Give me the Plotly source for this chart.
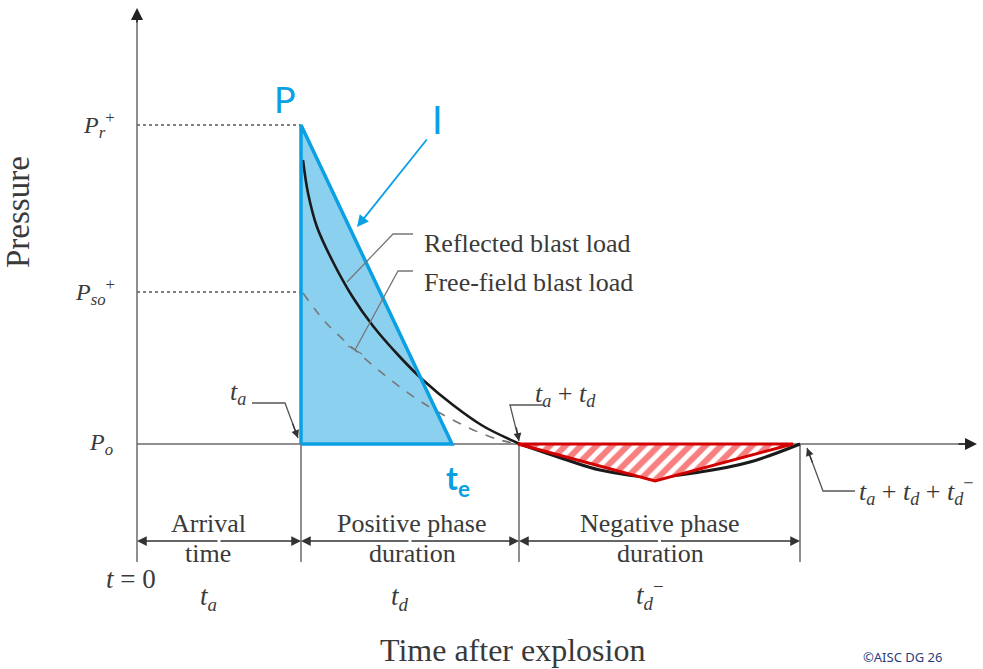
import plotly.graph_objects as go

# ---- data (time / pressure in arbitrary schematic units) ----
t_a = 164          # arrival time
t_e = 315          # equivalent triangular duration end
t_pos_end = 382    # t_a + t_d
t_neg_end = 663    # t_a + t_d + t_d^-
P_r = 319          # peak reflected pressure
P_so = 152         # peak free-field pressure
t_bottom = -118    # bottom of dimension guide lines
t_dim = -97        # dimension arrows level

reflected_t = [166, 171, 180, 195, 215, 236, 263, 286, 316, 346, 383]
reflected_p = [284, 251, 217, 184, 148, 118, 87, 64, 39, 18, 0]
freefield_t = [166, 180, 193, 218, 250, 286, 330, 363, 383]
freefield_p = [151, 132, 117, 94, 67, 41, 17, 4, 0]
negative_t = [383, 430, 463, 516, 563, 613, 663]
negative_p = [0, -16, -26, -33, -28, -18, 0]
neg_tri_t = [381, 656, 518, 381]
neg_tri_p = [0, 0, -37, 0]
pos_tri_t = [t_a, t_a, t_e, t_a]
pos_tri_p = [0, P_r, 0, 0]

GRAY = "#6a6a6a"
TXT = "#3a3a3a"
BLUE = "#0AA0E2"
SERIF = "Liberation Serif"

fig = go.Figure()

def line(xs, ys, color=GRAY, width=1.5, dash="solid", shape="linear"):
    fig.add_trace(go.Scatter(x=xs, y=ys, mode="lines", hoverinfo="skip",
                             line=dict(color=color, width=width, dash=dash, shape=shape),
                             showlegend=False))

# dotted reference levels
line([0, t_a], [P_r, P_r], color="#555", width=1.5, dash="dot")
line([0, t_a], [P_so, P_so], color="#555", width=1.5, dash="dot")

# axes and guide lines
line([0, 0], [t_bottom, 430])
line([0, 836], [0, 0])
line([t_a, t_a], [t_bottom, 0])
line([t_pos_end, t_pos_end], [t_bottom, 0])
line([t_neg_end, t_neg_end], [t_bottom, 0])

# blue triangle fill
fig.add_trace(go.Scatter(x=pos_tri_t, y=pos_tri_p, mode="lines", fill="toself",
                         fillcolor="#8CD0F0", line=dict(width=0), hoverinfo="skip",
                         showlegend=False))

# curves
line(freefield_t, freefield_p, color="#777", width=1.6, dash="dash", shape="spline")
line(reflected_t, reflected_p, color="#1a1a1a", width=2.6, shape="spline")
line(negative_t, negative_p, color="#1a1a1a", width=3, shape="spline")

# red hatched negative triangle
fig.add_trace(go.Scatter(x=neg_tri_t, y=neg_tri_p, mode="lines", fill="toself",
                         fillcolor="white",
                         fillpattern=dict(shape="/", fgcolor="#F00000", bgcolor="white",
                                          size=11, solidity=0.55),
                         line=dict(color="#D00000", width=3), hoverinfo="skip",
                         showlegend=False))

# blue triangle outline
line(pos_tri_t, pos_tri_p, color=BLUE, width=3.5)

# leader lines
line([115, 148, 161], [41, 41, 6], color="#555", width=1.3)
line([406, 373, 382], [39, 39, 3], color="#555", width=1.3)
line([718, 686, 670], [-47, -47, -4], color="#555", width=1.3)
line([276, 256, 210], [210, 210, 162], color="#777", width=1.3)
line([276, 261, 218], [173, 173, 94], color="#777", width=1.3)
line([211, 225], [98, 90], color="#777", width=1.3)

ann = []

def arrow(x, y, ax, ay, color="#333", width=1.5, head=2, size=1.3):
    ann.append(dict(x=x, y=y, ax=ax, ay=ay, xref="x", yref="y", axref="x", ayref="y",
                    text="", showarrow=True, arrowhead=head, arrowsize=size,
                    arrowwidth=width, arrowcolor=color))

# axis arrow heads
arrow(0, 436, 0, 420, color="#222", size=1.6)
arrow(840, 0, 820, 0, color="#222", size=1.6)

# leader arrow heads
arrow(161, 6, 155, 22, color="#333", width=1.3, size=1.2)
arrow(382, 3, 379, 18, color="#333", width=1.3, size=1.2)
arrow(670, -4, 676, -20, color="#333", width=1.3, size=1.2)

# blue arrow to impulse
arrow(220, 217, 291, 306, color=BLUE, width=1.8, size=1.3)

# dimension arrows
for a, b in [(0, t_a), (t_a, t_pos_end), (t_pos_end, t_neg_end)]:
    m = (a + b) / 2
    arrow(a, t_dim, m, t_dim, color="#333", width=1.5, size=1.3)
    arrow(b, t_dim, m, t_dim, color="#333", width=1.5, size=1.3)

def text(x, y, s, size=27, color=TXT, family=SERIF, xanchor="center", textangle=0):
    ann.append(dict(x=x, y=y, xref="x", yref="y", text=s, showarrow=False,
                    font=dict(size=size, color=color, family=family),
                    xanchor=xanchor, yanchor="middle", textangle=textangle))

text(-119, 232, "Pressure", size=33, textangle=-90)
text(375, -206, "Time after explosion", size=32)

text(-20, 319, "<i>P</i><sub><i>r</i></sub><sup>+</sup>", size=24, xanchor="right")
text(-20, 152, "<i>P</i><sub><i>so</i></sub><sup>+</sup>", size=24, xanchor="right")
text(-22, 0, "<i>P</i><sub><i>o</i></sub>", size=24, xanchor="right")

text(285, 201, "Reflected blast load", size=26, xanchor="left")
text(285, 162, "Free-field blast load", size=26, xanchor="left")

text(101, 51, "<i>t</i><sub><i>a</i></sub>", size=26)
text(396, 49, "<i>t</i><sub><i>a</i></sub> + <i>t</i><sub><i>d</i></sub>", size=26, xanchor="left")
text(720, -47, "<i>t</i><sub><i>a</i></sub> + <i>t</i><sub><i>d</i></sub> + <i>t</i><sub><i>d</i></sub><sup>−</sup>",
     size=26, xanchor="left")

text(71, -79, "Arrival", size=26)
text(71, -109, "time", size=26)
text(275, -79, "Positive phase", size=26)
text(275, -109, "duration", size=26)
text(523, -79, "Negative phase", size=26)
text(523, -109, "duration", size=26)

text(-6, -135, "<i>t</i> = 0", size=27)
text(71, -154, "<i>t</i><sub><i>a</i></sub>", size=27)
text(263, -154, "<i>t</i><sub><i>d</i></sub>", size=27)
text(513, -151, "<i>t</i><sub><i>d</i></sub><sup>−</sup>", size=27)

text(148, 345, "P", size=36, color=BLUE, family="Lato")
text(300, 325, "I", size=38, color=BLUE, family="Lato")
text(321, -36, "<b>t<sub>e</sub></b>", size=32, color=BLUE, family="Lato")

text(765, -213, "©AISC DG 26", size=13, color="#2B3D7A", family="Noto Sans")

fig.update_layout(
    width=983, height=669, margin=dict(l=0, r=0, t=0, b=0),
    paper_bgcolor="white", plot_bgcolor="white",
    xaxis=dict(range=[-137, 846], visible=False, fixedrange=True),
    yaxis=dict(range=[-225, 444], visible=False, fixedrange=True),
    annotations=ann, showlegend=False,
)

fig.write_html("out.html", config={"displayModeBar": False},
               post_script="document.body.style.margin='0';")
